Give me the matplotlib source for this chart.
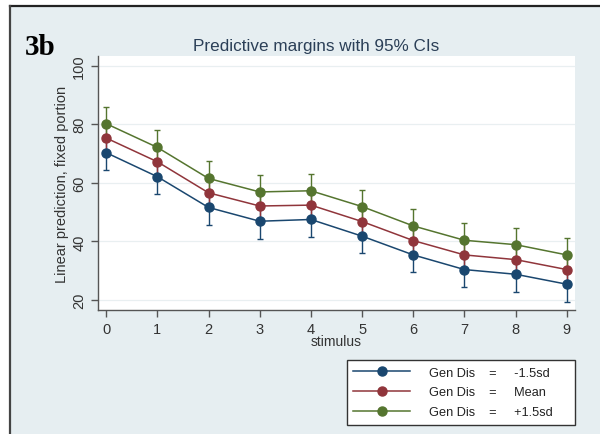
import matplotlib
matplotlib.use("Agg")
import matplotlib.pyplot as plt
from matplotlib.lines import Line2D
from matplotlib.patches import Rectangle

plt.rcParams["font.family"] = ["Liberation Sans", "DejaVu Sans"]

stimulus = [0, 1, 2, 3, 4, 5, 6, 7, 8, 9]
series_labels = ["-1.5sd", "Mean", "+1.5sd"]
low_sd = [70.3, 62.1, 51.6, 46.9, 47.5, 41.8, 35.4, 30.4, 28.8, 25.4]
mean = [75.3, 67.2, 56.6, 52.1, 52.4, 46.8, 40.3, 35.4, 33.8, 30.4]
high_sd = [80.2, 72.1, 61.5, 56.9, 57.3, 51.9, 45.3, 40.4, 38.9, 35.4]
ci_half = [5.9, 4.8, 5.8]
colors = ["#1a476f", "#90353b", "#55752f"]

BG = "#e6eef1"


def main():
    fig = plt.figure(figsize=(6, 4.35), dpi=100, facecolor="white")

    # light blue graph region with black frame on top and left
    fig.add_artist(Rectangle((10 / 600, 0), 1 - 10 / 600, (435 - 7) / 435,
                             transform=fig.transFigure, facecolor=BG,
                             edgecolor="none", zorder=0))
    fig.add_artist(Line2D([10 / 600, 1], [(435 - 7) / 435] * 2,
                          transform=fig.transFigure, color="#222222", lw=1.6))
    fig.add_artist(Line2D([10 / 600] * 2, [0, (435 - 7) / 435],
                          transform=fig.transFigure, color="#444444", lw=1.6))

    ax = fig.add_axes([98 / 600, (435 - 311) / 435, 477 / 600, 254 / 435])
    ax.set_facecolor("white")

    handles = []
    for values, ci, color, lab in zip([low_sd, mean, high_sd], ci_half, colors, series_labels):
        ax.errorbar(stimulus, values, yerr=ci, fmt="none", ecolor=color,
                    elinewidth=1.0, capsize=2.5, capthick=1.0, zorder=2)
        line, = ax.plot(stimulus, values, color=color, lw=1.1, marker="o",
                        markersize=6.5, zorder=3)
        handles.append(line)

    ax.set_xlim(-0.16, 9.16)
    ax.set_ylim(16.6, 103.3)
    ax.set_xticks(stimulus)
    ax.set_yticks([20, 40, 60, 80, 100])
    ax.grid(axis="y", color="#e9eff1", lw=0.9)
    ax.set_axisbelow(True)
    for side in ["top", "right"]:
        ax.spines[side].set_visible(False)
    for side in ["left", "bottom"]:
        ax.spines[side].set_color("#555555")
        ax.spines[side].set_linewidth(1.0)
    ax.tick_params(axis="both", colors="#555555", labelcolor="#333333",
                   labelsize=10.5, length=5, width=1.0)
    for lbl in ax.get_yticklabels():
        lbl.set_rotation(90)
        lbl.set_va("center")

    ax.set_ylabel("Linear prediction, fixed portion", fontsize=10.5,
                  color="#333333", labelpad=2)
    ax.set_xlabel("stimulus", fontsize=10, color="#333333", labelpad=-1)
    fig.text(316 / 600, (435 - 47) / 435, "Predictive margins with 95% CIs",
             fontsize=12.3, color="#2b3f57", ha="center", va="center")

    labels = ["Gen Dis    =     " + s for s in series_labels]
    leg = ax.legend(handles, labels, loc="lower left",
                    bbox_to_anchor=(347 / 600, 9.5 / 435, 228 / 600, 68 / 435),
                    bbox_transform=fig.transFigure, mode="expand",
                    borderaxespad=0, fontsize=9.2, handlelength=4.4,
                    handletextpad=1.5, labelspacing=0.6, borderpad=0.5,
                    fancybox=False, framealpha=1.0, edgecolor="#333333")
    leg.get_frame().set_linewidth(1.0)
    for t in leg.get_texts():
        t.set_color("#222222")

    fig.text(25 / 600, (435 - 55) / 435, "3b", fontsize=21, fontweight="bold",
             family="Liberation Serif", color="black", va="baseline")

    fig.savefig("out.png", dpi=100)
    plt.close(fig)


if __name__ == "__main__":
    main()
